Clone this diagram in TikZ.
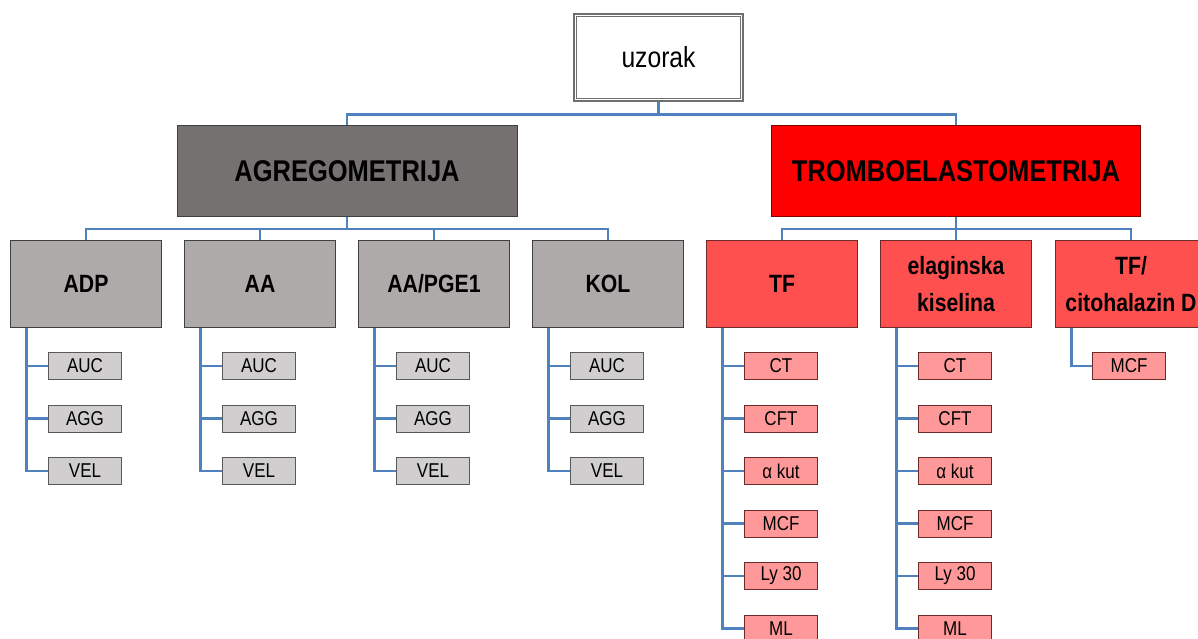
\documentclass[tikz,border=0pt]{standalone}
\usepackage{fontspec}
\setmainfont[FakeStretch=0.85]{Liberation Sans}
\begin{document}
\begin{tikzpicture}[x=1pt,y=-1pt,
  conn/.style={draw=lineblue,line width=2.8pt},
  rootbox/.style={fill=white,draw=rootgray,line width=1.4pt,minimum width=169pt,minimum height=87pt,inner sep=0pt,font=\fontsize{29}{34}\selectfont},
  rootinner/.style={draw=rootgray,line width=1.4pt},
  maingray/.style={draw=black!75,line width=1pt,fill=maingrayfill,minimum height=91pt,inner sep=0pt,font=\fontsize{30}{36}\selectfont\bfseries},
  mainred/.style={draw=black!50!red,line width=1pt,fill=red,minimum height=91pt,inner sep=0pt,font=\fontsize{30}{36}\selectfont\bfseries},
  midgray/.style={draw=black!75,line width=1pt,fill=midgrayfill,minimum width=151pt,minimum height=87pt,inner sep=0pt,align=center,font=\fontsize{25}{37}\selectfont\bfseries},
  midred/.style={draw=redborder,line width=1pt,fill=midredfill,minimum width=151pt,minimum height=87pt,inner sep=0pt,align=center,font=\fontsize{25}{37}\selectfont\bfseries},
  leafgray/.style={draw=black!65,line width=1pt,fill=leafgrayfill,minimum width=73pt,minimum height=27pt,inner sep=0pt,font=\fontsize{20}{24}\selectfont},
  leafred/.style={draw=redborder,line width=1pt,fill=leafredfill,minimum width=73pt,minimum height=27pt,inner sep=0pt,font=\fontsize{20}{24}\selectfont}
]
\definecolor{lineblue}{HTML}{4F81BD}
\definecolor{rootgray}{HTML}{6F6F6F}
\definecolor{maingrayfill}{HTML}{767171}
\definecolor{midgrayfill}{HTML}{AEAAAA}
\definecolor{midredfill}{HTML}{FF5050}
\definecolor{leafgrayfill}{HTML}{D0CECE}
\definecolor{leafredfill}{HTML}{FF9999}
\definecolor{redborder}{HTML}{6E2A2A}
\useasboundingbox (0,0) rectangle (1198,639);

\node[rootbox] (root) at (658.5,57.5) {uzorak};
\draw[rootinner] ([shift={(3pt,-3pt)}]root.north west) rectangle ([shift={(-3pt,3pt)}]root.south east);
\node[maingray,minimum width=340pt] (agr) at (347,171) {AGREGOMETRIJA};
\node[mainred,minimum width=369pt] (tro) at (956,171) {TROMBOELASTOMETRIJA};

\draw[conn] (root.south) -- ++(0,12.5) -| (agr.north);
\draw[conn] (root.south) -- ++(0,12.5) -| (tro.north);

% level 2 grey
\foreach \n/\x/\t in {adp/86/{ADP},aa/260/{AA},pge/434/{AA/PGE1},kol/608/{KOL}}{
  \node[midgray] (\n) at (\x,284) {\t};
  \draw[conn] (agr.south) -- ++(0,12) -| (\n.north);
  \foreach \l/\k in {AUC/1,AGG/2,VEL/3}{
    \node[leafgray] (\n\k) at (\x-1,366+52.5*\k-52.5) {\l};
    \draw[conn] ([xshift=16.5pt]\n.south west) |- (\n\k.west);
  }
}

% level 2 red
\node[midred] (tf) at (782,284) {TF};
\node[midred] (ela) at (956,284) {elaginska\\kiselina};
\node[midred] (cit) at (1131,284) {TF/\\citohalazin D};
\foreach \n in {tf,ela,cit}{
  \draw[conn] (tro.south) -- ++(0,12) -| (\n.north);
}
\foreach \n/\x in {tf/782,ela/956}{
  \foreach \l/\k in {CT/1,CFT/2,α kut/3,MCF/4,Ly 30/5,ML/6}{
    \node[leafred] (\n\k) at (\x-1,366+52.5*\k-52.5) {\l};
    \draw[conn] ([xshift=16.5pt]\n.south west) |- (\n\k.west);
  }
}
\node[leafred] (cit1) at (1129,366) {MCF};
\draw[conn] ([xshift=16.5pt]cit.south west) |- (cit1.west);
\end{tikzpicture}
\end{document}
